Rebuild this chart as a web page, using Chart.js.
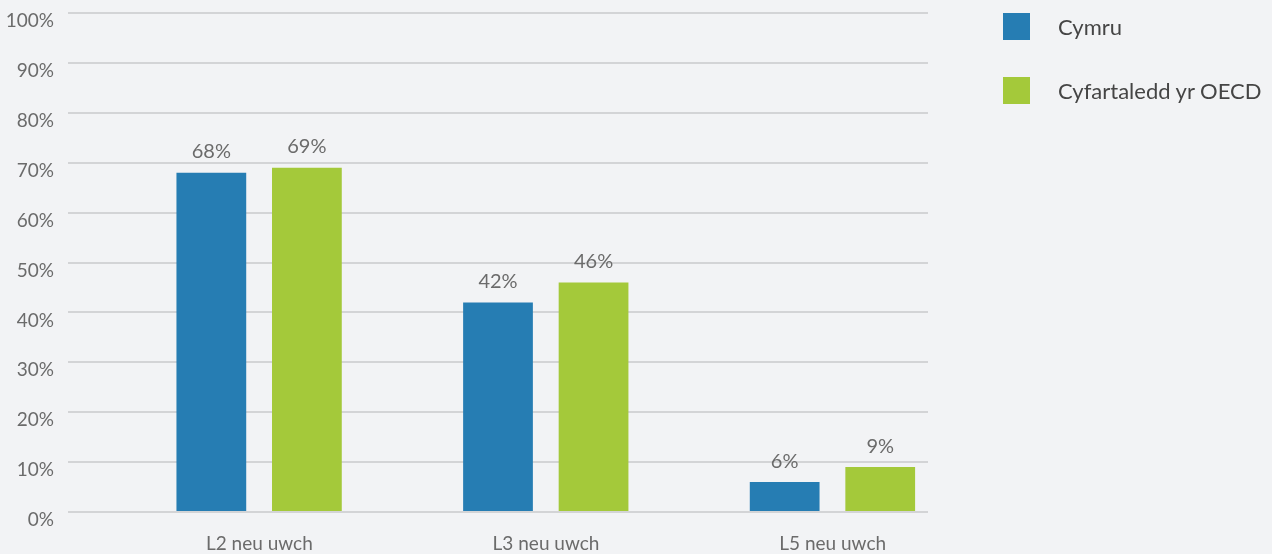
<!DOCTYPE html>
<html>
<head>
<meta charset="utf-8">
<script src="https://cdn.jsdelivr.net/npm/chart.js@4"></script>
<style>
    html, body { margin: 0; padding: 0; background: #f2f3f5; }
    #wrap { position: relative; width: 1272px; height: 554px; }
    #legend { position: absolute; left: 1003px; top: 13px; font-family: Lato, sans-serif; font-size: 22px; color: #454545; }
    .item { position: relative; height: 27px; margin-bottom: 37px; }
    .sw { position: absolute; left: 0; top: 0; width: 27px; height: 27px; }
    .lbl { position: absolute; left: 55px; top: 0; line-height: 27px; white-space: nowrap; }
</style>
</head>
<body>
<div id="wrap">
    <canvas id="grafica"></canvas>
    <div id="legend"></div>
</div>
<script>
const categorias = ['L2 neu uwch', 'L3 neu uwch', 'L5 neu uwch'];
const cymru = [68, 42, 6];
const oecd = [69, 46, 9];
const nombres = ['Cymru', 'Cyfartaledd yr OECD'];
const colores = ['#267db3', '#a4c93a'];

// leyenda a la derecha
const legend = document.getElementById('legend');
nombres.forEach(function (n, i) {
    const div = document.createElement('div');
    div.className = 'item';
    div.innerHTML = '<span class="sw" style="background:' + colores[i] + '"></span><span class="lbl">' + n + '</span>';
    legend.appendChild(div);
});

// etiquetas de valor encima de las barras
const etiquetas = {
    id: 'etiquetas',
    afterDatasetsDraw(chart) {
        const ctx = chart.ctx;
        ctx.save();
        ctx.font = '20px Lato, sans-serif';
        ctx.fillStyle = '#6b6b6b';
        ctx.textAlign = 'center';
        ctx.textBaseline = 'bottom';
        chart.data.datasets.forEach(function (ds, i) {
            if (!ds.label) return;
            chart.getDatasetMeta(i).data.forEach(function (bar, j) {
                ctx.fillText(ds.data[j] + '%', bar.x, bar.y - 11);
            });
        });
        ctx.restore();
    }
};

const ctx = document.getElementById('grafica').getContext('2d');
new Chart(ctx, {
    type: 'bar',
    data: {
        labels: categorias,
        datasets: [
            { label: '', data: [null, null, null], backgroundColor: 'rgba(0,0,0,0)' },
            { label: nombres[0], data: cymru, backgroundColor: colores[0] },
            { label: nombres[1], data: oecd, backgroundColor: colores[1] }
        ]
    },
    options: {
        responsive: true,
        maintainAspectRatio: false,
        animation: false,
        categoryPercentage: 1.0,
        barPercentage: 0.73,
        layout: { padding: { top: 13, right: 344, bottom: 0, left: 0 } },
        plugins: {
            legend: { display: false },
            tooltip: { enabled: false }
        },
        scales: {
            y: {
                min: 0,
                max: 100,
                ticks: {
                    stepSize: 10,
                    padding: 14,
                    labelOffset: 8,
                    color: '#6b6b6b',
                    font: { family: 'Lato', size: 19 },
                    callback: function (v) { return v + '%'; }
                },
                grid: { color: '#d3d4d6', lineWidth: 2, drawTicks: false },
                border: { display: false },
                afterFit: function (scale) {
                    scale.width = 68;
                    scale.paddingTop = 0;
                    scale.paddingBottom = 0;
                }
            },
            x: {
                ticks: {
                    padding: 12,
                    labelOffset: 48,
                    color: '#6b6b6b',
                    font: { family: 'Lato', size: 19 }
                },
                grid: { display: false },
                border: { display: false },
                afterFit: function (scale) { scale.height = 42; }
            }
        }
    },
    plugins: [etiquetas]
});
</script>
</body>
</html>
